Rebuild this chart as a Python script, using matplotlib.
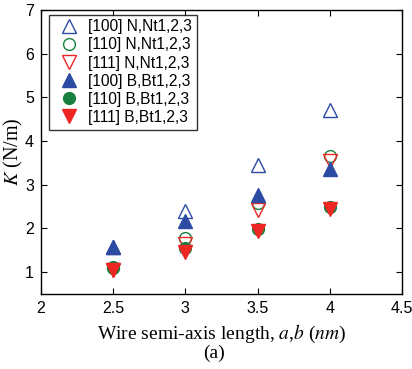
import matplotlib
matplotlib.use("Agg")
import matplotlib.pyplot as plt

x = [2.5, 3.0, 3.5, 4.0]
n100 = [1.57, 2.40, 3.46, 4.71]
n110 = [1.10, 1.77, 2.59, 3.65]
n111 = [1.05, 1.64, 2.42, 3.54]
b100 = [1.57, 2.17, 2.76, 3.37]
b110 = [1.11, 1.56, 1.98, 2.49]
b111 = [1.05, 1.47, 1.94, 2.44]
labels = ["[100] N,Nt1,2,3", "[110] N,Nt1,2,3", "[111] N,Nt1,2,3",
          "[100] B,Bt1,2,3", "[110] B,Bt1,2,3", "[111] B,Bt1,2,3"]

blue = "#2C4BA3"
green = "#17803E"
red = "#EE2624"

plt.rcParams['font.family'] = ['Liberation Sans', 'DejaVu Sans']
plt.rcParams['mathtext.fontset'] = 'stix'

fig = plt.figure(figsize=(4.12, 3.69), dpi=100)
ax = fig.add_axes([0.0995, 0.2033, 0.876, 0.770])

ms_t = 9.5
ms_c = 8.5
ax.plot(x, n100, linestyle='none', marker='^', ms=ms_t, mfc='none', mec=blue, mew=1.0, label=labels[0])
ax.plot(x, n110, linestyle='none', marker='o', ms=ms_c, mfc='none', mec=green, mew=1.0, label=labels[1])
ax.plot(x, n111, linestyle='none', marker='v', ms=ms_t, mfc='none', mec=red, mew=1.0, label=labels[2])
ax.plot(x, b100, linestyle='none', marker='^', ms=ms_t, mfc=blue, mec=blue, mew=1.0, label=labels[3])
ax.plot(x, b110, linestyle='none', marker='o', ms=ms_c, mfc=green, mec=green, mew=1.0, label=labels[4])
ax.plot(x, b111, linestyle='none', marker='v', ms=ms_t, mfc=red, mec=red, mew=1.0, label=labels[5])

ax.set_xlim(2, 4.5)
ax.set_ylim(0.5, 7)
ax.set_xticks([2, 2.5, 3, 3.5, 4, 4.5])
ax.set_xticklabels(['2', '2.5', '3', '3.5', '4', '4.5'])
ax.set_yticks([1, 2, 3, 4, 5, 6, 7])
ax.tick_params(direction='in', top=True, right=True, length=4, width=0.8,
               labelsize=11.5, pad=5)
for s in ax.spines.values():
    s.set_linewidth(1.0)

ax.set_xlabel('Wire semi-axis length, $a$,$b$ ($nm$)', family='Liberation Serif',
              fontsize=14, labelpad=5)
ax.set_ylabel('$K$ (N/m)', family='Liberation Serif', fontsize=14.5, labelpad=0)
fig.text(0.5 + 0.02, 0.03, '(a)', family='Liberation Serif', fontsize=14, ha='center')

leg = ax.legend(loc='upper left', bbox_to_anchor=(0.021, 0.983), fontsize=11.2,
                frameon=True, fancybox=False, edgecolor='black', handlelength=2.0,
                handletextpad=0.25, labelspacing=0.2, borderpad=0.3, borderaxespad=0.0)
leg.get_frame().set_linewidth(1.0)

fig.savefig('out.png', dpi=100)
